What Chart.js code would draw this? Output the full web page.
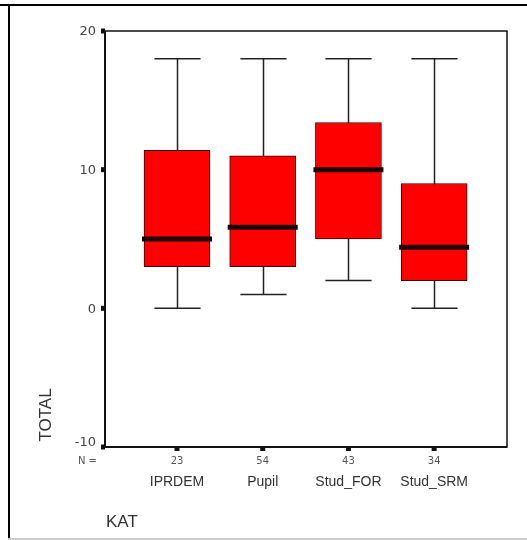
<!DOCTYPE html>
<html>
<head>
<meta charset="utf-8">
<script src="https://cdn.jsdelivr.net/npm/chart.js@4/dist/chart.umd.min.js"></script>
<style>
  html, body { margin: 0; padding: 0; background: #fff; }
  #wrap { width: 527px; height: 540px; position: relative; }
</style>
</head>
<body>
<div id="wrap"><canvas id="boxChart"></canvas></div>
<script>
// data
var categories = ["IPRDEM", "Pupil", "Stud_FOR", "Stud_SRM"];
var counts = [23, 54, 43, 34];
var whiskerLow = [0, 1, 2, 0];
var q1 = [3, 3, 5, 2];
var median = [5, 5.85, 10, 4.4];
var q3 = [11.4, 11, 13.4, 9];
var whiskerHigh = [18, 18, 18, 18];
var yTicks = [20, 10, 0, -10];

var boxes = categories.map(function (c, i) {
  return { x: i, y: [q1[i], q3[i]] };
});

// whiskers, medians, axes, labels
var boxplotExtras = {
  id: "boxplotExtras",
  beforeDatasetsDraw: function (chart) {
    var ctx = chart.ctx;
    var ys = chart.scales.y;
    var meta = chart.getDatasetMeta(0);
    ctx.save();
    ctx.strokeStyle = "#222";
    ctx.lineWidth = 1.5;
    meta.data.forEach(function (bar, i) {
      var cx = Math.round(bar.x) + 0.5;
      var capHalf = bar.width * 0.35;
      var yLo = ys.getPixelForValue(whiskerLow[i]);
      var yHi = ys.getPixelForValue(whiskerHigh[i]);
      ctx.beginPath();
      ctx.moveTo(cx, yLo); ctx.lineTo(cx, yHi);
      ctx.moveTo(cx - capHalf, yLo); ctx.lineTo(cx + capHalf, yLo);
      ctx.moveTo(cx - capHalf, yHi); ctx.lineTo(cx + capHalf, yHi);
      ctx.stroke();
    });
    ctx.restore();
  },
  afterDatasetsDraw: function (chart) {
    var ctx = chart.ctx;
    var ys = chart.scales.y;
    var xs = chart.scales.x;
    var area = chart.chartArea;
    var meta = chart.getDatasetMeta(0);
    ctx.save();

    // medians
    ctx.strokeStyle = "#1c0000";
    ctx.lineWidth = 5;
    meta.data.forEach(function (bar, i) {
      var y = ys.getPixelForValue(median[i]);
      ctx.beginPath();
      ctx.moveTo(bar.x - bar.width / 2 - 2, y);
      ctx.lineTo(bar.x + bar.width / 2 + 2, y);
      ctx.stroke();
    });

    // plot frame
    ctx.strokeStyle = "#111";
    ctx.lineWidth = 1.5;
    ctx.strokeRect(area.left, area.top, area.right - area.left, area.bottom - area.top);
    ctx.lineWidth = 2;
    ctx.beginPath();
    ctx.moveTo(area.left, area.top); ctx.lineTo(area.left, area.bottom);
    ctx.lineTo(area.right, area.bottom);
    ctx.stroke();

    // y ticks
    ctx.font = "13px 'DejaVu Sans'";
    ctx.textAlign = "right";
    ctx.textBaseline = "middle";
    yTicks.forEach(function (v) {
      var y = ys.getPixelForValue(v);
      ctx.fillStyle = "#111";
      ctx.fillRect(area.left - 4, y - 2.5, 4, 5);
      ctx.fillStyle = "#444";
      ctx.fillText(String(v), area.left - 9, v === -10 ? y - 4 : y + 1);
    });

    // x ticks, N and category labels
    ctx.textAlign = "center";
    categories.forEach(function (c, i) {
      var x = xs.getPixelForValue(i);
      ctx.fillStyle = "#111";
      ctx.fillRect(x - 2.5, area.bottom, 5, 4);
      ctx.fillStyle = "#555";
      ctx.font = "10px 'DejaVu Sans'";
      ctx.fillText(String(counts[i]), x, area.bottom + 14);
      ctx.fillStyle = "#333";
      ctx.font = "14px 'Liberation Sans'";
      ctx.fillText(c, x, area.bottom + 35);
    });
    ctx.fillStyle = "#555";
    ctx.font = "10px 'DejaVu Sans'";
    ctx.textAlign = "right";
    ctx.fillText("N =", area.left - 8, area.bottom + 14);

    // axis titles
    ctx.fillStyle = "#333";
    ctx.font = "17px 'Liberation Sans'";
    ctx.textAlign = "left";
    ctx.fillText("KAT", 106, area.bottom + 75);
    ctx.save();
    ctx.translate(46, 415);
    ctx.rotate(-Math.PI / 2);
    ctx.textAlign = "center";
    ctx.fillText("TOTAL", 0, 0);
    ctx.restore();

    // outer border of the picture
    ctx.fillStyle = "#000";
    ctx.fillRect(0, 4, chart.width, 2);
    ctx.fillRect(8, 4, 2, chart.height - 4);
    ctx.fillStyle = "#ccc";
    ctx.fillRect(8, chart.height - 2, chart.width - 8, 2);

    ctx.restore();
  }
};

new Chart("boxChart", {
  type: "bar",
  data: {
    datasets: [{
      data: boxes,
      backgroundColor: "#ff0000",
      borderColor: "#3a0000",
      borderWidth: 1,
      borderSkipped: false,
      barThickness: 66
    }]
  },
  options: {
    responsive: true,
    maintainAspectRatio: false,
    animation: false,
    layout: { padding: { left: 105, top: 31, right: 20, bottom: 93 } },
    plugins: {
      legend: { display: false },
      tooltip: { enabled: false }
    },
    scales: {
      x: { type: "linear", display: false, offset: false, min: -0.84, max: 3.85 },
      y: { display: false, min: -10, max: 20 }
    }
  },
  plugins: [boxplotExtras]
});
</script>
</body>
</html>
